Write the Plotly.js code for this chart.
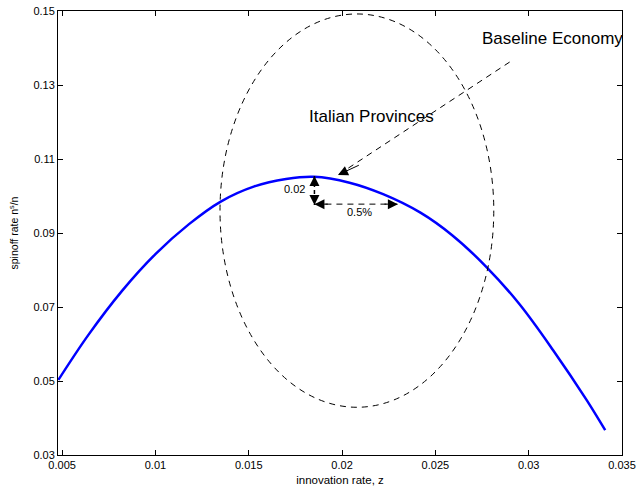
<!DOCTYPE html>
<html>
<head>
<meta charset="utf-8">
<script src="https://cdn.plot.ly/plotly-3.0.1.min.js"></script>
<style>html,body{margin:0;padding:0;background:#fff;}#chart{width:638px;height:492px;}</style>
</head>
<body>
<div id="chart"></div>
<script>
// Innovation rate z and spinoff rate n^s/n
var innovationRate = [0.0048, 0.0064, 0.0082, 0.0100, 0.0118, 0.0135, 0.0153, 0.0170, 0.0185, 0.0204, 0.0222, 0.0242, 0.0259, 0.0277, 0.0295, 0.0313, 0.0331, 0.0341];
var spinoffRate    = [0.0503, 0.0624, 0.0743, 0.0843, 0.0924, 0.0985, 0.1026, 0.1046, 0.1052, 0.1036, 0.1005, 0.0955, 0.0894, 0.0810, 0.0708, 0.0584, 0.0449, 0.0367];

// Ellipse "Italian Provinces" bounds (z range, rate range)
var ellipseZ = [0.01346, 0.02813];
var ellipseY = [0.0429, 0.1492];

// Arrow endpoints
var baselineArrowTail = [0.02898, 0.1362];
var baselineArrowHead = [0.01978, 0.1057];
var vertArrow = {z: 0.01852, y0: 0.1054, y1: 0.0976};
var horizArrow = {y: 0.0978, z0: 0.01852, z1: 0.02299};

var xTicks = [0.005, 0.01, 0.015, 0.02, 0.025, 0.03, 0.035];
var xTickText = ['0.005', '0.01', '0.015', '0.02', '0.025', '0.03', '0.035'];
var yTicks = [0.03, 0.05, 0.07, 0.09, 0.11, 0.13, 0.15];
var yTickText = ['0.03', '0.05', '0.07', '0.09', '0.11', '0.13', '0.15'];

var font = 'Liberation Sans, Arial, Helvetica, sans-serif';

var trace = {
  x: innovationRate, y: spinoffRate, type: 'scatter', mode: 'lines',
  line: {color: '#0000ff', width: 2.5, shape: 'spline', smoothing: 1},
  hoverinfo: 'skip', showlegend: false
};

var dashLine = {color: '#000', width: 1, dash: '6px,5px'};

var layout = {
  width: 638, height: 492,
  margin: {l: 58, r: 16, t: 11, b: 37},
  paper_bgcolor: '#fff', plot_bgcolor: '#fff',
  font: {family: font, color: '#000'},
  showlegend: false,
  xaxis: {
    range: [0.00478, 0.035], tickvals: xTicks, ticktext: xTickText,
    ticks: 'inside', ticklen: 5, tickcolor: '#000', tickwidth: 1,
    showline: true, linecolor: '#000', linewidth: 1, mirror: 'ticks',
    showgrid: false, zeroline: false,
    tickfont: {size: 11, family: font, color: '#000'},
    title: {text: 'innovation rate, z', font: {size: 11.5, family: font, color: '#000'}, standoff: 5}
  },
  yaxis: {
    range: [0.03, 0.15], tickvals: yTicks, ticktext: yTickText,
    ticks: 'inside', ticklen: 5, tickcolor: '#000', tickwidth: 1,
    showline: true, linecolor: '#000', linewidth: 1, mirror: 'ticks',
    showgrid: false, zeroline: false,
    tickfont: {size: 11, family: font, color: '#000'},
    title: {text: 'spinoff rate n<sup>s</sup>/n', font: {size: 10.5, family: font, color: '#000'}, standoff: 12}
  },
  shapes: [
    {type: 'circle', xref: 'x', yref: 'y', x0: ellipseZ[0], x1: ellipseZ[1], y0: ellipseY[0], y1: ellipseY[1], line: dashLine},
    {type: 'line', xref: 'x', yref: 'y', x0: baselineArrowTail[0], y0: baselineArrowTail[1], x1: baselineArrowHead[0], y1: baselineArrowHead[1], line: dashLine},
    {type: 'line', xref: 'x', yref: 'y', x0: vertArrow.z, y0: vertArrow.y0, x1: vertArrow.z, y1: vertArrow.y1, line: {color: '#000', width: 1.5, dash: '4px,3px'}},
    {type: 'line', xref: 'x', yref: 'y', x0: horizArrow.z0, y0: horizArrow.y, x1: horizArrow.z1, y1: horizArrow.y, line: dashLine}
  ],
  annotations: [
    {x: 0.02738, y: 0.1427, xref: 'x', yref: 'y', text: 'Baseline Economy', showarrow: false, xanchor: 'left', yanchor: 'middle', font: {size: 17, family: font, color: '#000'}},
    {x: 0.01812, y: 0.1214, xref: 'x', yref: 'y', text: 'Italian Provinces', showarrow: false, xanchor: 'left', yanchor: 'middle', font: {size: 17, family: font, color: '#000'}},
    {x: 0.0181, y: 0.1019, xref: 'x', yref: 'y', text: '0.02', showarrow: false, xanchor: 'right', yanchor: 'middle', font: {size: 11, family: font, color: '#000'}},
    {x: 0.02095, y: 0.0957, xref: 'x', yref: 'y', text: '0.5%', showarrow: false, xanchor: 'center', yanchor: 'middle', font: {size: 11, family: font, color: '#000'}},
    // arrowheads
    {x: baselineArrowHead[0], y: baselineArrowHead[1], ax: baselineArrowHead[0] + 0.0012, ay: baselineArrowHead[1] + 0.0028, axref: 'x', ayref: 'y', xref: 'x', yref: 'y', text: '', showarrow: true, arrowhead: 2, arrowsize: 2, arrowwidth: 1, arrowcolor: '#000'},
    {x: vertArrow.z, y: vertArrow.y0, ax: vertArrow.z, ay: vertArrow.y0 - 0.003, axref: 'x', ayref: 'y', xref: 'x', yref: 'y', text: '', showarrow: true, arrowhead: 2, arrowsize: 2, arrowwidth: 1, arrowcolor: '#000'},
    {x: vertArrow.z, y: vertArrow.y1, ax: vertArrow.z, ay: vertArrow.y1 + 0.003, axref: 'x', ayref: 'y', xref: 'x', yref: 'y', text: '', showarrow: true, arrowhead: 2, arrowsize: 2, arrowwidth: 1, arrowcolor: '#000'},
    {x: horizArrow.z0, y: horizArrow.y, ax: horizArrow.z0 + 0.0008, ay: horizArrow.y, axref: 'x', ayref: 'y', xref: 'x', yref: 'y', text: '', showarrow: true, arrowhead: 2, arrowsize: 2, arrowwidth: 1, arrowcolor: '#000'},
    {x: horizArrow.z1, y: horizArrow.y, ax: horizArrow.z1 - 0.0008, ay: horizArrow.y, axref: 'x', ayref: 'y', xref: 'x', yref: 'y', text: '', showarrow: true, arrowhead: 2, arrowsize: 2, arrowwidth: 1, arrowcolor: '#000'}
  ]
};

Plotly.newPlot('chart', [trace], layout, {displayModeBar: false, staticPlot: true});
</script>
</body>
</html>
